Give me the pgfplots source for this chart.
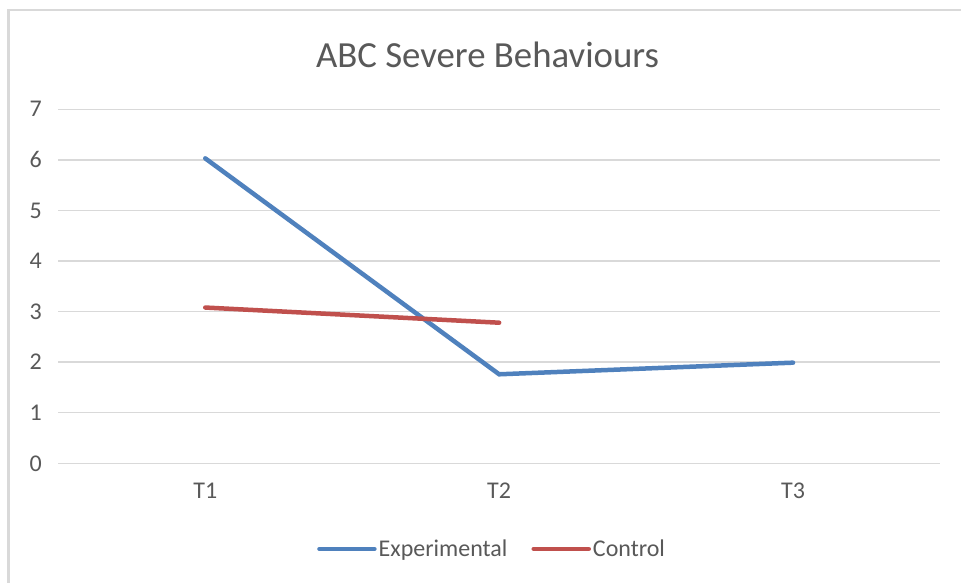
\documentclass[border=0pt]{standalone}
\usepackage{pgfplots}
\pgfplotsset{compat=1.18}
\usepackage{fontspec}
\setmainfont{Carlito}
\definecolor{txtc}{HTML}{595959}
\definecolor{gridc}{HTML}{D9D9D9}
\definecolor{serA}{HTML}{4F81BD}
\definecolor{serB}{HTML}{C0504D}
\begin{document}
\begin{tikzpicture}[x=1pt,y=1pt]
\useasboundingbox (0,0) rectangle (961,583);
\fill[white] (0,0) rectangle (961,583);
\draw[gridc, line width=2.5pt] (8.5,0) -- (8.5,573) -- (961,573);
\node[text=txtc, font=\fontsize{36.8}{40}\selectfont] at (487.5,528) {ABC Severe Behaviours};
\begin{axis}[
 at={(58.3pt,119.7pt)}, anchor=south west,
 scale only axis, width=881.7pt, height=354pt,
 xmin=-0.5, xmax=2.5, ymin=0, ymax=7,
 xtick={0,1,2}, xticklabels={T1,T2,T3},
 ytick={0,1,2,3,4,5,6,7},
 axis line style={draw=none},
 major tick length=0pt,
 ymajorgrids, grid style={gridc, line width=1.5pt},
 tick label style={text=txtc, font=\fontsize{24}{28}\selectfont},
 /pgf/number format/assume math mode=true,
 yticklabel style={xshift=-13pt},
 xticklabel style={yshift=-16.5pt},
 legend style={at={(0.492,-0.242)}, anchor=center, draw=none, fill=none,
   font=\fontsize{24}{28}\selectfont, text=txtc,
   /tikz/every even column/.append style={column sep=22pt},
   nodes={inner sep=2pt}},
 legend columns=2,
 legend image code/.code={\draw[#1, line cap=round] (0pt,0pt) -- (55pt,0pt);},
]
\addplot[serA, line width=4.5pt, line cap=round] coordinates {(0,6.03) (1,1.76) (2,1.99)};
\addlegendentry{Experimental}
\addplot[serB, line width=4.5pt, line cap=round] coordinates {(0,3.08) (1,2.78)};
\addlegendentry{Control}
\end{axis}
\end{tikzpicture}
\end{document}
